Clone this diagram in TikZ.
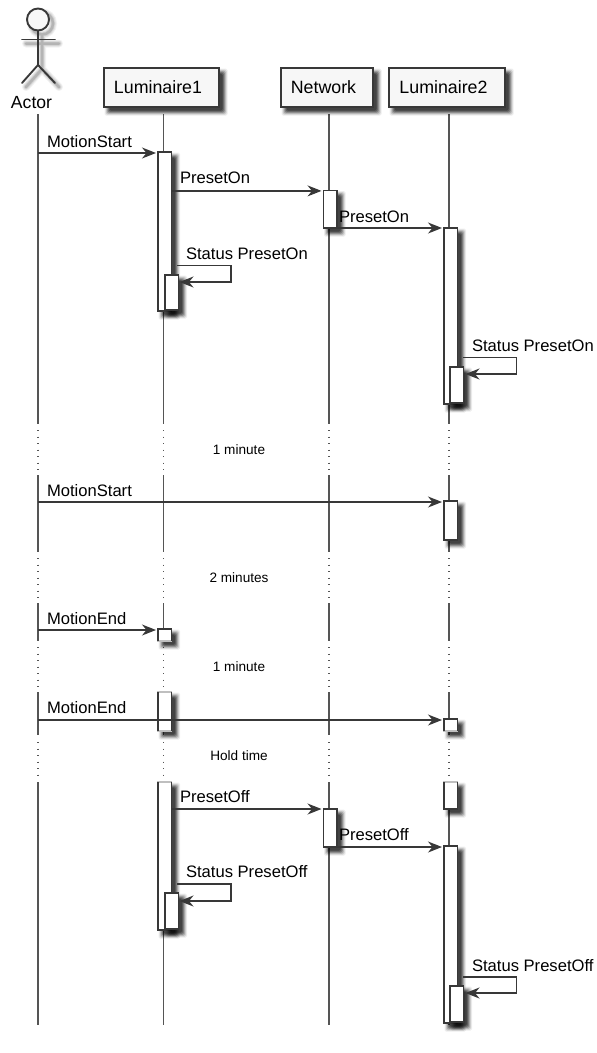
\documentclass[tikz,border=0pt]{standalone}
\usepackage{fontspec}
\setmainfont{Liberation Sans}
\usetikzlibrary{arrows.meta}
\definecolor{ink}{HTML}{383838}
\definecolor{lifeink}{HTML}{555555}
\newcommand{\softbox}[4]{% x, y, w, h of the box casting the shadow
  \foreach \e/\o in {4/.07,3/.12,2/.18,1/.24,0/.28,-1/.28}{
    \fill[black,fill opacity=\o,rounded corners=1.5pt]
      ({#1+4.5-\e},{#2+4.5-\e}) rectangle ({#1+#3+4.5+\e},{#2+#4+4.5+\e});
  }
}
\tikzset{
  header/.style={draw=ink,line width=1.6pt,fill=black!3,minimum width=#1,minimum height=39pt,inner sep=0pt,outer sep=0pt,font=\fontsize{17.8pt}{20pt}\selectfont},
  actbar/.style={draw=ink,line width=1.3pt,fill=white,minimum width=13.5pt,anchor=north west,inner sep=0pt,outer sep=0pt},
  fadebar/.style={draw=black!25,line width=1.1pt,fill=white,minimum width=13.5pt,anchor=north west,inner sep=0pt,outer sep=0pt},
  barside/.style={draw=ink,line width=1.3pt},
  life/.style={draw=lifeink,line width=1.3pt},
  gap/.style={draw=lifeink,line width=1.1pt,dash pattern=on 1.2pt off 5.3pt},
  msg/.style={draw=ink,line width=1.3pt,-{Stealth[length=14pt,width=11pt,inset=4.5pt]},shorten >=2pt},
  selfline/.style={draw=ink,line width=1.3pt,-{Stealth[length=14pt,width=11pt,inset=4.5pt]}},
  lab/.style={anchor=base west,inner sep=0pt,outer sep=0pt,font=\fontsize{16.6pt}{19pt}\selectfont},
  delaylab/.style={anchor=base,inner sep=0pt,outer sep=0pt,font=\fontsize{13.6pt}{16pt}\selectfont},
  stick/.style={draw=ink,line width=1.9pt,line cap=round}
}
\begin{document}
\begin{tikzpicture}[x=1pt,y=-1pt]
\useasboundingbox (0,0) rectangle (597,1053);
% lifeline anchors
\coordinate (A) at (38,114);
\coordinate (Lone) at (163.8,114);
\coordinate (Net) at (329,114);
\coordinate (Ltwo) at (449,114);
% lifelines
\foreach \n in {A,Lone,Net,Ltwo}{
  \foreach \a/\b in {114/424,475/552,603/641,692/735,782/1025}{
    \coordinate (p) at (0,\a); \coordinate (q) at (0,\b);
    \draw[life] (\n |- p) -- (\n |- q);
  }
  \foreach \a/\b in {430/472,558/600,647/690,742/780}{
    \coordinate (p) at (0,\a); \coordinate (q) at (0,\b);
    \draw[gap] (\n |- p) -- (\n |- q);
  }
}
% actor
\begin{scope}[shift={(4,4)}]
  \foreach \w/\o in {8/.05,6/.07,4/.09,2.5/.12}{
    \draw[line width=\w pt,draw=black,draw opacity=\o,line cap=round] (38,19.5) circle (11) (38,30.5) -- (38,65) (22,39.5) -- (55,39.5) (22,83) -- (38,65) -- (55,83);
  }
\end{scope}
\node[circle,draw=ink,line width=1.9pt,fill=black!3,minimum size=22pt,inner sep=0pt,outer sep=0pt] (head) at (38,19.5) {};
\coordinate (hip) at (38,65);
\coordinate (handl) at (22,39.5);
\coordinate (handr) at (55,39.5);
\coordinate (footl) at (22,83);
\coordinate (footr) at (55,83);
\draw[stick] (head.south) -- (hip);
\draw[stick] (handl) -- (handr);
\draw[stick] (footl) -- (hip) -- (footr);
\node[inner sep=0pt,anchor=base,font=\fontsize{17.6pt}{20pt}\selectfont] (actorlab) at (31.5,108.3) {Actor};
% headers
\softbox{104}{68}{115}{39}
\node[header=115pt] (h1) at (161.5,87.5) {Luminaire1\rule{7pt}{0pt}};
\softbox{281}{68}{92}{39}
\node[header=92pt] (h2) at (327,87.5) {Network\rule{7pt}{0pt}};
\softbox{389}{68}{116}{39}
\node[header=116pt] (h3) at (447,87.5) {Luminaire2\rule{7pt}{0pt}};
% first block bars
\softbox{158}{152}{13.5}{159}
\node[actbar,minimum height=159pt] (a1) at (158,152) {};
\softbox{165}{275}{13.5}{35}
\node[actbar,minimum height=35pt] (a1n) at (165,275) {};
\softbox{323.5}{190.5}{13.5}{37.5}
\node[actbar,minimum height=37.5pt] (b1) at (323.5,190.5) {};
\softbox{444}{228}{13.5}{176}
\node[actbar,minimum height=176pt] (c1) at (444,228) {};
\softbox{450}{367}{13.5}{36}
\node[actbar,minimum height=36pt] (c1n) at (450,367) {};
% second block
\softbox{444}{501}{13.5}{39}
\node[actbar,minimum height=39pt] (c2) at (444,501) {};
% fragments
\softbox{158}{629}{13.5}{12}
\node[fadebar,minimum height=12pt] (a2) at (158,629) {};
\draw[barside] (a2.south west) -- (a2.north west) -- (a2.north east) -- (a2.south east);
\softbox{158}{692}{13.5}{39}
\node[fadebar,minimum height=39pt] (a3) at (158,692) {};
\draw[barside] (a3.north west) -- (a3.south west) (a3.north east) -- (a3.south east);
\softbox{444}{719}{13.5}{12}
\node[fadebar,minimum height=12pt] (c3) at (444,719) {};
\draw[barside] (c3.south west) -- (c3.north west) -- (c3.north east) -- (c3.south east);
\softbox{444}{782}{13.5}{27}
\node[fadebar,minimum height=27pt] (c4) at (444,782) {};
\draw[barside] (c4.north west) -- (c4.south west) -- (c4.south east) -- (c4.north east);
% third block
\softbox{158}{782}{13.5}{148}
\node[fadebar,minimum height=148pt] (a4) at (158,782) {};
\draw[barside] (a4.north west) -- (a4.south west) -- (a4.south east) -- (a4.north east);
\softbox{165}{893}{13.5}{36}
\node[actbar,minimum height=36pt] (a4n) at (165,893) {};
\softbox{323.5}{809}{13.5}{38}
\node[actbar,minimum height=38pt] (b4) at (323.5,809) {};
\softbox{444}{846}{13.5}{177}
\node[actbar,minimum height=177pt] (c5) at (444,846) {};
\softbox{450}{986}{13.5}{36}
\node[actbar,minimum height=36pt] (c5n) at (450,986) {};
% message levels
\coordinate (m1) at (0,153);
\coordinate (m2) at (0,190.9);
\coordinate (m3) at (0,228);
\coordinate (m4) at (0,502);
\coordinate (m5) at (0,630);
\coordinate (m6) at (0,720);
\coordinate (m7) at (0,809);
\coordinate (m8) at (0,847);
\draw[msg] (A |- m1) -- (a1.west |- m1);
\draw[msg] (a1.east |- m2) -- (b1.west |- m2);
\draw[msg] (b1.east |- m3) -- (c1.west |- m3);
\draw[msg] (A |- m4) -- (c2.west |- m4);
\draw[msg] (A |- m5) -- (a2.west |- m5);
\draw[msg] (A |- m6) -- (c3.west |- m6);
\draw[msg] (a4.east |- m7) -- (b4.west |- m7);
\draw[msg] (b4.east |- m8) -- (c5.west |- m8);
% self messages
\coordinate (s1a) at (177,265.5);
\coordinate (s1b) at (231,265.5);
\coordinate (s1c) at (231,282);
\coordinate (s1d) at (179.5,282);
\draw[selfline] (s1a) -- (s1b) -- (s1c) -- (s1d);
\coordinate (s2a) at (463,357.7);
\coordinate (s2b) at (516.7,357.7);
\coordinate (s2c) at (516.7,374);
\coordinate (s2d) at (465.5,374);
\draw[selfline] (s2a) -- (s2b) -- (s2c) -- (s2d);
\coordinate (s3a) at (177,884);
\coordinate (s3b) at (231,884);
\coordinate (s3c) at (231,901);
\coordinate (s3d) at (179.5,901);
\draw[selfline] (s3a) -- (s3b) -- (s3c) -- (s3d);
\coordinate (s4a) at (463,977);
\coordinate (s4b) at (516.7,977);
\coordinate (s4c) at (516.7,993);
\coordinate (s4d) at (465.5,993);
\draw[selfline] (s4a) -- (s4b) -- (s4c) -- (s4d);
% labels
\node[lab] (t1) at (47,147.5) {MotionStart};
\node[lab] (t2) at (180,183.5) {PresetOn};
\node[lab] (t3) at (339,222.3) {PresetOn};
\node[lab] (t4) at (186,259) {Status PresetOn};
\node[lab] (t5) at (472,351.7) {Status PresetOn};
\node[lab] (t6) at (47,496) {MotionStart};
\node[lab] (t7) at (47,624) {MotionEnd};
\node[lab] (t8) at (47,713.3) {MotionEnd};
\node[lab] (t9) at (180,802.3) {PresetOff};
\node[lab] (t10) at (339,840.3) {PresetOff};
\node[lab] (t11) at (186,877.5) {Status PresetOff};
\node[lab] (t12) at (472,971) {Status PresetOff};
\node[delaylab] (d1) at (239,454.7) {1 minute};
\node[delaylab] (d2) at (239,582.7) {2 minutes};
\node[delaylab] (d3) at (239,671.7) {1 minute};
\node[delaylab] (d4) at (239,760.7) {Hold time};
\end{tikzpicture}
\end{document}
